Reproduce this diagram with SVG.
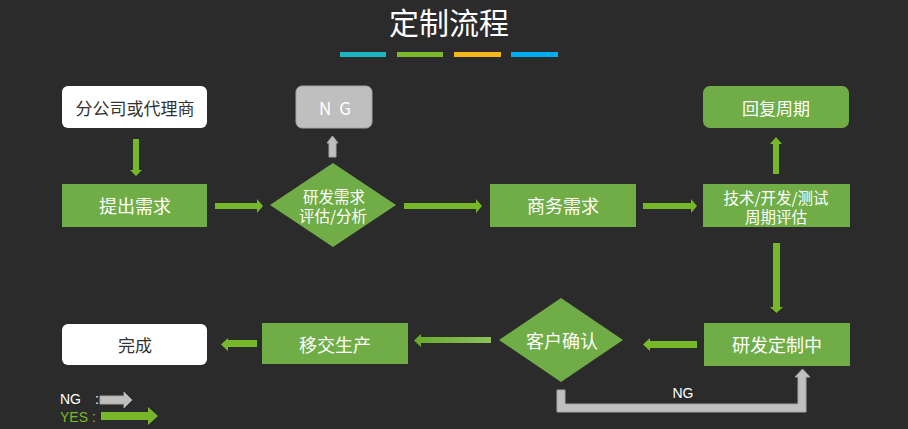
<svg xmlns="http://www.w3.org/2000/svg" width="908" height="429" viewBox="0 0 908 429">
<defs>
<style>
.t{font-family:"Noto Sans CJK SC","Microsoft YaHei",sans-serif;text-anchor:middle;dominant-baseline:central}
.w{fill:#ffffff}
.d{fill:#333333}
.box{fill:#70ad47}
.wbox{fill:#ffffff}
.ga{fill:#76b82a}
.na{fill:#bfbfbf;stroke:#a6a6a6;stroke-width:1}
.lg{font-family:"Liberation Sans",Arial,sans-serif;font-size:14px}
</style>
<linearGradient id="lg" x1="0" x2="1" y1="0" y2="0">
<stop offset="0" stop-color="#6aaa2a"/>
<stop offset="1" stop-color="#8cc15a"/>
</linearGradient>
</defs>
<rect width="908" height="429" fill="#2b2b2b"/>
<text class="t w" x="449" y="21" font-size="30">定制流程</text>
<rect x="340" y="52" width="46" height="5" fill="#1db3c2"/>
<rect x="397" y="52" width="46" height="5" fill="#7ab929"/>
<rect x="454" y="52" width="47" height="5" fill="#f4b619"/>
<rect x="511" y="52" width="47" height="5" fill="#00adee"/>

<g id="n-branch"><rect class="wbox" x="62" y="86" width="145" height="42" rx="6"/><text class="t d" x="135" y="107" font-size="17">分公司或代理商</text></g>
<g id="n-ng"><rect x="296" y="86" width="76" height="42" rx="6" fill="#bfbfbf" stroke="#a6a6a6"/><text class="t w" x="319" y="107" font-size="17" letter-spacing="8" style="text-anchor:start">NG</text></g>
<g id="n-submit"><rect class="box" x="62" y="184" width="145" height="43"/><text class="t w" x="135" y="205" font-size="18">提出需求</text></g>
<g id="n-eval"><polygon class="box" points="333,163 396,205 333,247 270,205"/><text class="t w" font-size="15.5"><tspan x="334" y="196">研发需求</tspan><tspan x="333" y="215">评估/分析</tspan></text></g>
<g id="n-biz"><rect class="box" x="490" y="184" width="146" height="43"/><text class="t w" x="563" y="205" font-size="18">商务需求</text></g>
<g id="n-reply"><rect class="box" x="703" y="86" width="146" height="42" rx="7"/><text class="t w" x="776" y="107" font-size="17">回复周期</text></g>
<g id="n-tech"><rect class="box" x="703" y="184" width="147" height="43"/><text class="t w" font-size="15.5"><tspan x="776" y="197">技术/开发/测试</tspan><tspan x="776" y="216">周期评估</tspan></text></g>
<g id="n-dev"><rect class="box" x="704" y="323" width="146" height="43"/><text class="t w" x="777" y="344" font-size="18">研发定制中</text></g>
<g id="n-confirm"><polygon class="box" points="561,298 623,340 561,382 499,340"/><text class="t w" x="562" y="340" font-size="18">客户确认</text></g>
<g id="n-prod"><rect class="box" x="262" y="323" width="146" height="41"/><text class="t w" x="335" y="344" font-size="18">移交生产</text></g>
<g id="n-done"><rect class="wbox" x="62" y="324" width="145" height="41" rx="6"/><text class="t d" x="135" y="344" font-size="17">完成</text></g>

<g id="connectors">
<polygon class="ga" points="133,139 139,139 139,170 142,170 136,176 130,170 133,170"/>
<polygon class="ga" points="215,203 257,203 257,199 263,206 257,213 257,209 215,209"/>
<polygon class="ga" points="404,203 476,203 476,199 482,206 476,213 476,209 404,209"/>
<polygon class="ga" points="643,203 691,203 691,199 697,206 691,213 691,209 643,209"/>
<polygon class="ga" points="773,174 779,174 779,144 782,144 776,137 770,144 773,144"/>
<polygon class="ga" points="773,243 780,243 780,307 783,307 776.5,313 770,307 773,307"/>
<polygon class="ga" points="697,341 650,341 650,338 643,344.5 650,351 650,348 697,348"/>
<polygon points="491,337 421,337 421,334 414,340.5 421,347 421,343 491,343" fill="url(#lg)"/>
<polygon class="ga" points="257,340 228,340 228,338 221,344.5 228,351 228,347 257,347"/>
<polygon class="na" points="329,157 336,157 336,143 338,143 332.5,136 327,143 329,143"/>
<polygon class="na" points="557,390 565,390 565,404 798,404 798,377 795,377 802.5,369 810,377 806,377 806,412 557,412"/>
<text class="lg" x="683" y="398" fill="#ffffff" text-anchor="middle">NG</text>
</g>

<g id="legend">
<text class="lg" x="60" y="404" fill="#ffffff">NG</text>
<text class="lg" x="95" y="404" fill="#ffffff">:</text>
<polygon class="na" points="100,396 124,396 124,392 132,400 124,408 124,404 100,404"/>
<text class="lg" x="60" y="422" fill="#7ab929">YES :</text>
<polygon class="ga" points="101,412 148,412 148,407 158,416 148,425 148,420 101,420"/>
</g>
</svg>
